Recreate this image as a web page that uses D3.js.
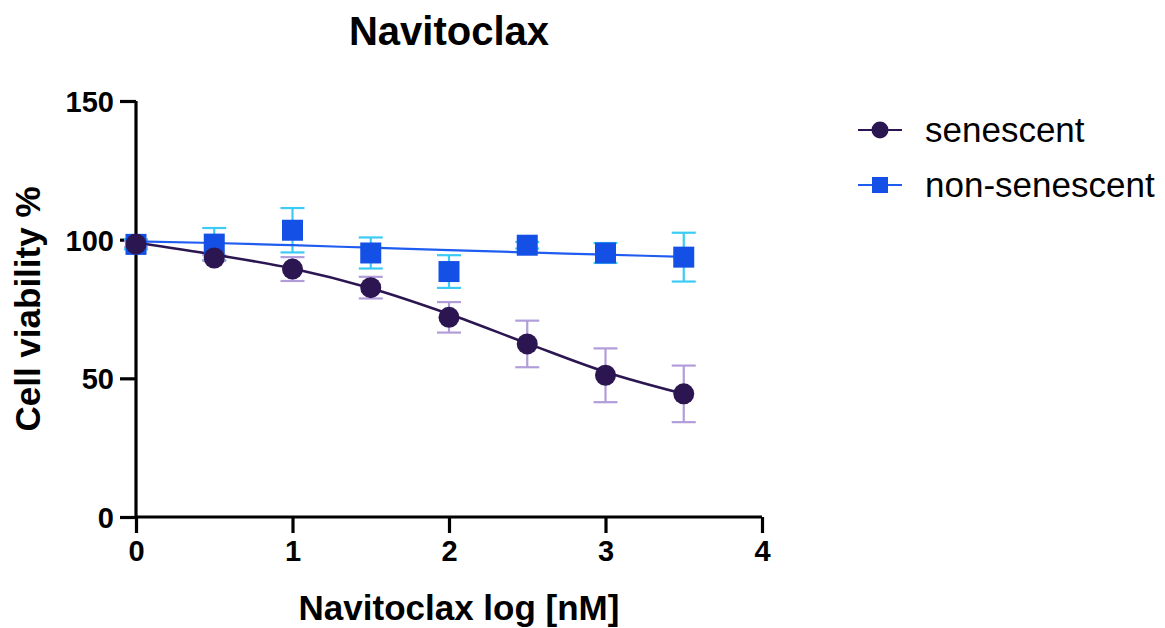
<!DOCTYPE html>
<html>
<head>
<meta charset="utf-8">
<script src="https://cdn.jsdelivr.net/npm/d3@7"></script>
<style>
  body { margin: 0; background: #fff; }
  svg { font-family: "Liberation Sans", Arial, sans-serif; }
</style>
</head>
<body>
<svg id="chart" width="1165" height="628"></svg>
<script>
// dose (log nM)
var doses = [0, 0.5, 1, 1.5, 2, 2.5, 3, 3.5];
// senescent mean and SD
var sen_mean = [98.4, 93.4, 89.4, 82.7, 72.0, 62.4, 51.1, 44.4];
var sen_err = [1.0, 1.0, 4.3, 3.9, 5.5, 8.4, 9.7, 10.2];
// non-senescent mean and SD
var non_mean = [98.3, 98.4, 103.4, 95.2, 88.5, 98.0, 95.2, 93.7];
var non_err = [1.8, 5.8, 8.0, 5.6, 5.9, 1.2, 3.6, 8.8];
// fitted curves
var sen_fit = [99.0, 94.6, 89.6, 82.5, 73.2, 62.6, 52.3, 44.4];
var non_fit = [99.4, 98.8, 98.0, 97.1, 96.2, 95.4, 94.6, 93.8];

var xTicks = [0, 1, 2, 3, 4];
var yTicks = [0, 50, 100, 150];
var seriesNames = ["senescent", "non-senescent"];

var margin = {left: 136, top: 101, right: 403, bottom: 111};
var width = 1165 - margin.left - margin.right;
var height = 628 - margin.top - margin.bottom;

var svg = d3.select("#chart").append("g")
	.attr("transform", "translate(" + margin.left + "," + margin.top + ")");

var xs = d3.scaleLinear().domain([0, 4]).range([0, width]);
var ys = d3.scaleLinear().domain([0, 150]).range([height, 0]);

var colors = {
	sen: "#2b1652", senErr: "#b29ddb",
	non: "#1450e6", nonLine: "#1f5cf0", nonErr: "#3ccbf4"
};

// axes
var xAxis = svg.append("g")
	.attr("transform", "translate(0," + height + ")")
	.call(d3.axisBottom(xs).tickValues(xTicks).tickSize(16).tickPadding(7).tickFormat(d3.format("d")));
var yAxis = svg.append("g")
	.call(d3.axisLeft(ys).tickValues(yTicks).tickSize(16).tickPadding(6));
[xAxis, yAxis].forEach(function(a) {
	a.attr("font-size", null).attr("font-family", null);
	a.select(".domain").attr("stroke", "#000").attr("stroke-width", 3.2);
	a.selectAll(".tick line").attr("stroke", "#000").attr("stroke-width", 3.2);
	a.selectAll(".tick text")
		.attr("fill", "#000")
		.style("font-size", "29px")
		.style("font-weight", "bold")
		.style("font-family", "'Liberation Sans', Arial, sans-serif");
});
// axis lines without end caps
xAxis.select(".domain").attr("d", "M0,0H" + width);
yAxis.select(".domain").attr("d", "M0,0V" + height);
yAxis.selectAll(".tick text").attr("dy", "0.36em");

// error bars
function errorBars(mean, err, color) {
	var g = svg.append("g");
	var cap = 12;
	doses.forEach(function(d, i) {
		var x = xs(d), y1 = ys(mean[i] + err[i]), y2 = ys(mean[i] - err[i]);
		g.append("line").attr("x1", x).attr("x2", x).attr("y1", y1).attr("y2", y2)
			.attr("stroke", color).attr("stroke-width", 2.2);
		[y1, y2].forEach(function(y) {
			g.append("line").attr("x1", x - cap).attr("x2", x + cap).attr("y1", y).attr("y2", y)
				.attr("stroke", color).attr("stroke-width", 2.2);
		});
	});
}
errorBars(non_mean, non_err, colors.nonErr);
errorBars(sen_mean, sen_err, colors.senErr);

// fit lines
var line = d3.line()
	.x(function(d, i) { return xs(doses[i]); })
	.y(function(d) { return ys(d); })
	.curve(d3.curveMonotoneX);

svg.append("path").datum(non_fit)
	.attr("fill", "none").attr("stroke", colors.nonLine).attr("stroke-width", 2.2)
	.attr("d", line);
svg.append("path").datum(sen_fit)
	.attr("fill", "none").attr("stroke", colors.sen).attr("stroke-width", 2.6)
	.attr("d", line);

// markers
var sq = 21;
svg.append("g").selectAll("rect").data(non_mean).enter().append("rect")
	.attr("x", function(d, i) { return xs(doses[i]) - sq / 2; })
	.attr("y", function(d) { return ys(d) - sq / 2; })
	.attr("width", sq).attr("height", sq)
	.attr("fill", colors.non);
svg.append("g").selectAll("circle").data(sen_mean).enter().append("circle")
	.attr("cx", function(d, i) { return xs(doses[i]); })
	.attr("cy", function(d) { return ys(d); })
	.attr("r", 10.5)
	.attr("fill", colors.sen);

// title and axis labels
svg.append("text")
	.attr("x", width / 2).attr("y", -56)
	.attr("text-anchor", "middle")
	.style("font-size", "40px").style("font-weight", "bold")
	.text("Navitoclax");
svg.append("text")
	.attr("x", width / 2 + 10).attr("y", height + 103)
	.attr("text-anchor", "middle")
	.style("font-size", "35px").style("font-weight", "bold")
	.text("Navitoclax log [nM]");
svg.append("text")
	.attr("transform", "rotate(-90)")
	.attr("x", -height / 2).attr("y", -96)
	.attr("text-anchor", "middle")
	.style("font-size", "35px").style("font-weight", "bold")
	.text("Cell viability %");

// legend
var legend = d3.select("#chart").append("g").attr("transform", "translate(858,130)");
seriesNames.forEach(function(name, i) {
	var g = legend.append("g").attr("transform", "translate(0," + (i * 55) + ")");
	var c = i === 0 ? colors.sen : colors.nonLine;
	g.append("line").attr("x1", 0).attr("x2", 44).attr("y1", 0).attr("y2", 0)
		.attr("stroke", c).attr("stroke-width", 2.2);
	if (i === 0) {
		g.append("circle").attr("cx", 22).attr("cy", 0).attr("r", 8.5).attr("fill", colors.sen);
	} else {
		g.append("rect").attr("x", 14).attr("y", -8).attr("width", 16).attr("height", 16).attr("fill", colors.non);
	}
	g.append("text").attr("x", 67).attr("y", 0).attr("dy", "0.35em")
		.style("font-size", "35px").attr("fill", "#000")
		.text(name);
});
</script>
</body>
</html>
